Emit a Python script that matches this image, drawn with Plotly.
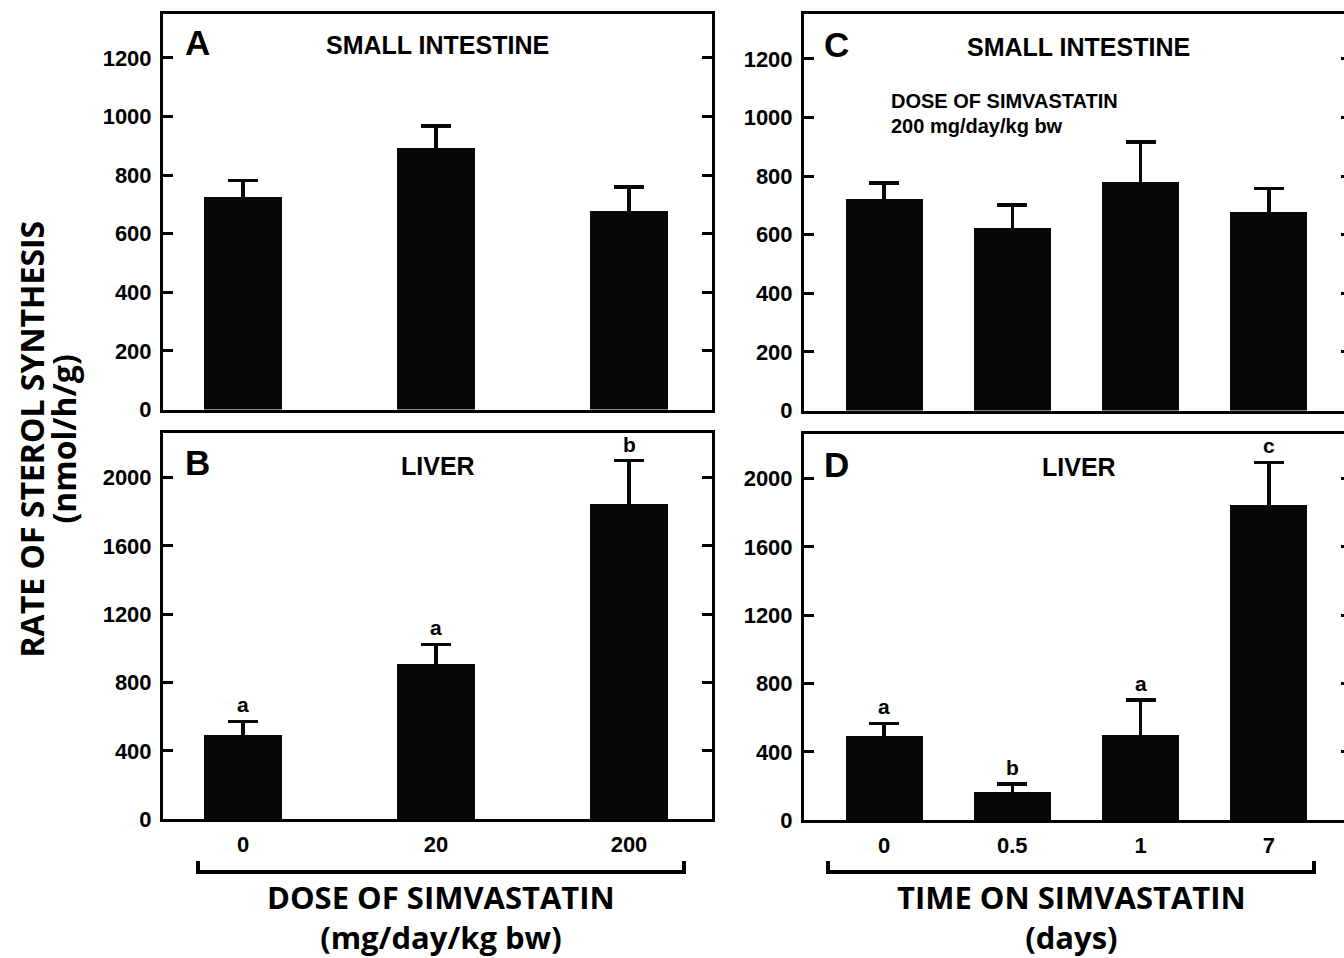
import plotly.graph_objects as go

REF_W, REF_H = 1344, 958   # reference picture size (positions below are read in these pixels)
FIG_W, FIG_H = 1344, 970   # figure size (the capture squeezes the page back to 958)

# ---------------- data ----------------
dose_labels = ["0", "20", "200"]
si_dose_mean = [726, 893, 678]
si_dose_sem = [55, 75, 82]
liver_dose_mean = [491, 906, 1842]
liver_dose_sem = [82, 117, 257]
liver_dose_sig = ["a", "a", "b"]

time_labels = ["0", "0.5", "1", "7"]
si_time_mean = [723, 624, 781, 678]
si_time_sem = [54, 78, 136, 79]
liver_time_mean = [491, 164, 497, 1842]
liver_time_sem = [76, 47, 205, 252]
liver_time_sig = ["a", "b", "a", "c"]

si_ticks = [0, 200, 400, 600, 800, 1000, 1200]
liver_ticks = [0, 400, 800, 1200, 1600, 2000]

# ---------------- layout helpers ----------------
def px(x):
    return x / REF_W

def py(y):
    return 1 - y / REF_H

BLACK = "#080808"
SANS = "Liberation Sans, Arial, sans-serif"
BIGFONT = "Open Sans, Noto Sans, sans-serif"
TICKFONT = dict(family=SANS, size=22, color="black", weight="bold")

fig = go.Figure()

panels = [
    dict(x="x", y="y", m=si_dose_mean, e=si_dose_sem, lab=dose_labels,
         xd=[px(163), px(712)], yd=[py(410), py(14)], xr=[-0.4145, 2.430], yr=[0, 1350],
         ticks=si_ticks, bw=0.40, showx=False, sig=None, right="mirror"),
    dict(x="x2", y="y2", m=liver_dose_mean, e=liver_dose_sem, lab=dose_labels,
         xd=[px(163), px(712)], yd=[py(820), py(433)], xr=[-0.4145, 2.430], yr=[0, 2263],
         ticks=liver_ticks, bw=0.40, showx=True, sig=liver_dose_sig, right="mirror"),
    dict(x="x3", y="y3", m=si_time_mean, e=si_time_sem, lab=time_labels,
         xd=[px(804), 1.0], yd=[py(411), py(14)], xr=[-0.6235, 3.585], yr=[0, 1353],
         ticks=si_ticks, bw=0.60, showx=False, sig=None, right="cut"),
    dict(x="x4", y="y4", m=liver_time_mean, e=liver_time_sem, lab=time_labels,
         xd=[px(804), 1.0], yd=[py(821), py(434)], xr=[-0.6235, 3.585], yr=[0, 2263],
         ticks=liver_ticks, bw=0.60, showx=True, sig=liver_time_sig, right="cut"),
]

annotations = []
for p in panels:
    n = len(p["m"])
    xs = list(range(n))
    # symmetric SEM bars: the lower half falls inside the black bar and is hidden
    fig.add_trace(go.Bar(
        x=xs, y=p["m"], width=p["bw"], xaxis=p["x"], yaxis=p["y"],
        marker=dict(color=BLACK, line=dict(width=0)),
        error_y=dict(type="data", array=p["e"], color=BLACK, thickness=3.5, width=15),
        showlegend=False, hoverinfo="skip",
    ))
    xname = "xaxis" if p["x"] == "x" else "xaxis" + p["x"][1:]
    yname = "yaxis" if p["y"] == "y" else "yaxis" + p["y"][1:]
    fig.layout[xname] = dict(
        domain=p["xd"], range=p["xr"], anchor=p["y"], showgrid=False, zeroline=False,
        showline=True, linewidth=3, linecolor="black", mirror=True, ticks="",
        tickmode="array", tickvals=xs, ticktext=p["lab"], showticklabels=p["showx"],
        tickfont=TICKFONT, ticklabelstandoff=3, fixedrange=True,
    )
    fig.layout[yname] = dict(
        domain=p["yd"], range=p["yr"], anchor=p["x"], showgrid=False, zeroline=False,
        showline=True, linewidth=3, linecolor="black",
        mirror=("allticks" if p["right"] == "mirror" else False),
        ticks="inside", ticklen=10, tickwidth=3, tickcolor="black",
        tickmode="array", tickvals=p["ticks"], ticktext=[str(t) for t in p["ticks"]],
        tickfont=TICKFONT, ticklabelstandoff=4, fixedrange=True,
    )
    if p["sig"]:
        for j in range(n):
            annotations.append(dict(
                x=j, y=p["m"][j] + p["e"][j], xref=p["x"], yref=p["y"],
                text=p["sig"][j], showarrow=False, yanchor="bottom", yshift=3,
                font=dict(family=SANS, size=21, color="black", weight="bold"),
            ))

# right-edge partial ticks for panels C and D (their frame continues past the image edge)
fig.layout["yaxis5"] = dict(
    overlaying="y3", side="right", range=[0, 1353], anchor="x3",
    showgrid=False, zeroline=False, showline=False, ticks="inside", ticklen=3,
    tickwidth=3, tickcolor="black", tickmode="array", tickvals=si_ticks,
    showticklabels=False, fixedrange=True,
)
fig.layout["yaxis6"] = dict(
    overlaying="y4", side="right", range=[0, 2263], anchor="x4",
    showgrid=False, zeroline=False, showline=False, ticks="inside", ticklen=3,
    tickwidth=3, tickcolor="black", tickmode="array", tickvals=liver_ticks,
    showticklabels=False, fixedrange=True,
)
fig.add_trace(go.Scatter(x=[None], y=[None], xaxis="x3", yaxis="y5", showlegend=False))
fig.add_trace(go.Scatter(x=[None], y=[None], xaxis="x4", yaxis="y6", showlegend=False))


def txt(x, y, s, size, family=SANS, xanchor="center", yanchor="middle", angle=0):
    annotations.append(dict(
        x=px(x), y=py(y), xref="paper", yref="paper", text=s, showarrow=False,
        xanchor=xanchor, yanchor=yanchor, textangle=angle,
        font=dict(family=family, size=size, color="black", weight="bold"),
    ))

# panel letters
txt(197, 43, "A", 35)
txt(197, 463, "B", 35)
txt(837, 45, "C", 35)
txt(837, 465, "D", 35)
# panel titles
txt(437, 45, "SMALL INTESTINE", 25)
txt(438, 466, "LIVER", 25)
txt(1078, 47, "SMALL INTESTINE", 25)
txt(1079, 467, "LIVER", 25)
# inset note in C
txt(889, 101, "DOSE OF SIMVASTATIN", 20, xanchor="left")
txt(889, 126, "200 mg/day/kg bw", 20, xanchor="left")
# x titles (two lines each)
txt(441, 918, "DOSE OF SIMVASTATIN<br>(mg/day/kg bw)", 31, family=BIGFONT)
txt(1071, 918, "TIME ON SIMVASTATIN<br>(days)", 31, family=BIGFONT)
# y title
txt(32, 440, "RATE OF STEROL SYNTHESIS", 32, family=BIGFONT, angle=-90)
txt(64, 440, "(nmol/h/g)", 32, family=BIGFONT, angle=-90)

# brackets under the x axes
shapes = []
for x0, x1 in [(198, 684), (828, 1314)]:
    shapes.append(dict(
        type="path", xref="paper", yref="paper",
        path=f"M {px(x0)} {py(862)} L {px(x0)} {py(873)} L {px(x1)} {py(873)} L {px(x1)} {py(862)}",
        line=dict(color="black", width=4),
    ))

fig.update_layout(
    width=FIG_W, height=FIG_H, margin=dict(l=0, r=0, t=0, b=0),
    paper_bgcolor="white", plot_bgcolor="white",
    annotations=annotations, shapes=shapes, bargap=0,
)

fig.write_html(
    "out.html",
    config={"displayModeBar": False, "staticPlot": True},
    post_script=(
        "var d=document.getElementById('{plot_id}');"
        "d.style.position='fixed';d.style.top='0px';d.style.left='0px';"
        "document.body.style.margin='0px';"
        "document.documentElement.style.overflow='hidden';"
        "document.body.style.overflow='hidden';"
    ),
)
